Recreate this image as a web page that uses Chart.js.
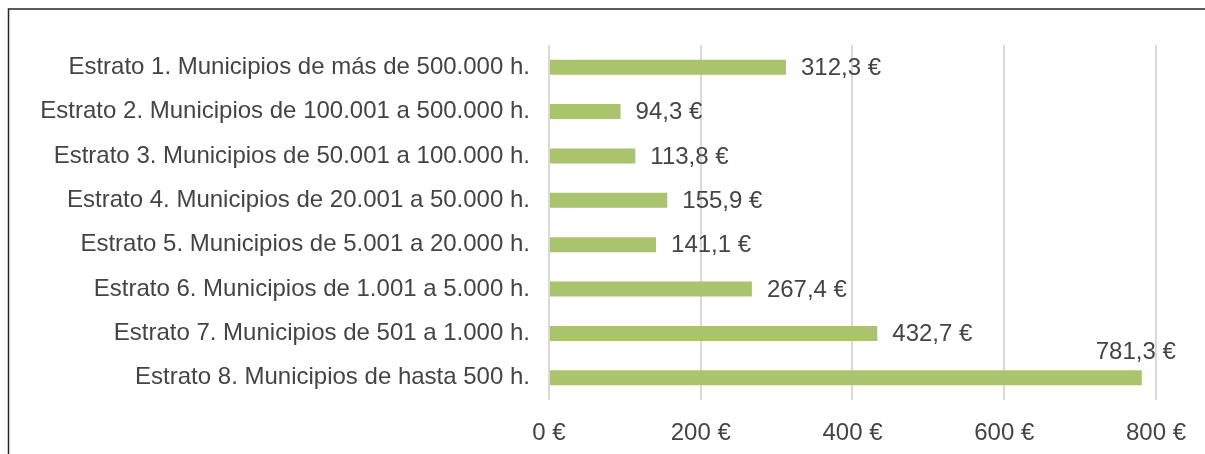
<!DOCTYPE html>
<html>
<head>
<meta charset="utf-8">
<script src="https://cdn.jsdelivr.net/npm/chart.js@4/dist/chart.umd.min.js"></script>
<style>
  html, body { margin: 0; padding: 0; background: #fff; }
  #wrap { width: 1205px; height: 454px; position: relative; }
</style>
</head>
<body>
<div id="wrap"><canvas id="chart"></canvas></div>
<script>
const categories = [
  'Estrato 1. Municipios de más de 500.000 h.',
  'Estrato 2. Municipios de 100.001 a 500.000 h.',
  'Estrato 3. Municipios de 50.001 a 100.000 h.',
  'Estrato 4. Municipios de 20.001 a 50.000 h.',
  'Estrato 5. Municipios de 5.001 a 20.000 h.',
  'Estrato 6. Municipios de 1.001 a 5.000 h.',
  'Estrato 7. Municipios de 501 a 1.000 h.',
  'Estrato 8. Municipios de hasta 500 h.'
];
const values = [312.3, 94.3, 113.8, 155.9, 141.1, 267.4, 432.7, 781.3];
const xTicks = [0, 200, 400, 600, 800];

const FONT = "'Liberation Sans', Arial, sans-serif";
const SIZE = 24;
const TEXT = '#444444';

const fmt = v => v.toFixed(1).replace('.', ',') + ' €';

// frame lines (top and left) like the original picture
const framePlugin = {
  id: 'frame',
  beforeDraw(chart) {
    const c = chart.ctx;
    c.save();
    c.strokeStyle = '#262626';
    c.lineWidth = 1.5;
    c.beginPath();
    c.moveTo(8.5, chart.height);
    c.lineTo(8.5, 9);
    c.lineTo(chart.width, 9);
    c.stroke();
    c.restore();
  }
};

// value labels at bar ends, the one that does not fit goes above the bar
const labelPlugin = {
  id: 'valueLabels',
  afterDatasetsDraw(chart) {
    const c = chart.ctx;
    const meta = chart.getDatasetMeta(0);
    c.save();
    c.font = SIZE + 'px ' + FONT;
    c.fillStyle = TEXT;
    c.textBaseline = 'middle';
    meta.data.forEach((bar, i) => {
      const txt = fmt(values[i]);
      if (bar.x + 15 + c.measureText(txt).width > chart.chartArea.right + 30) {
        c.textAlign = 'center';
        c.fillText(txt, bar.x - 6, bar.y - 25);
      } else {
        c.textAlign = 'left';
        c.fillText(txt, bar.x + 15, bar.y + 1);
      }
    });
    c.restore();
  }
};

new Chart(document.getElementById('chart'), {
  type: 'bar',
  data: {
    labels: categories,
    datasets: [{
      data: values,
      backgroundColor: '#a9c46c',
      barPercentage: 0.34,
      categoryPercentage: 1
    }]
  },
  options: {
    indexAxis: 'y',
    responsive: true,
    maintainAspectRatio: false,
    animation: false,
    layout: { padding: { top: 45, right: 49, left: 0, bottom: 0 } },
    plugins: { legend: { display: false }, tooltip: { enabled: false } },
    scales: {
      x: {
        min: 0,
        max: 800,
        afterBuildTicks: s => { s.ticks = xTicks.map(v => ({ value: v })); },
        afterFit: s => { s.height = 54; },
        grid: { color: '#d9d9d9', lineWidth: 2, drawTicks: false },
        border: { display: false },
        ticks: {
          padding: 19,
          color: TEXT,
          font: { family: FONT, size: SIZE },
          callback: v => v + ' €'
        }
      },
      y: {
        afterFit: s => { s.width = 549; },
        grid: { display: false, drawTicks: false },
        border: { display: false },
        ticks: {
          padding: 19,
          color: TEXT,
          font: { family: FONT, size: SIZE }
        }
      }
    }
  },
  plugins: [framePlugin, labelPlugin]
});
</script>
</body>
</html>
